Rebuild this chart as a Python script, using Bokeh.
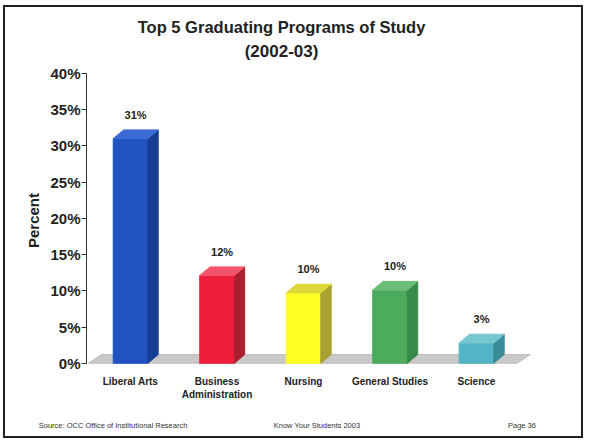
from bokeh.plotting import figure
from bokeh.models import FixedTicker, PrintfTickFormatter, Range1d, ColumnDataSource, LinearAxis
from bokeh.core.properties import value
from bokeh.embed import file_html
from bokeh.resources import INLINE

# ---- data ----
categories = ["Liberal Arts", "Business\nAdministration", "Nursing", "General Studies", "Science"]
percent = [31.0, 12.1, 9.7, 10.1, 2.8]
value_labels = ["31%", "12%", "10%", "10%", "3%"]
y_ticks = [0, 5, 10, 15, 20, 25, 30, 35, 40]

title_line1 = "Top 5 Graduating Programs of Study"
title_line2 = "(2002-03)"
footer_texts = ["Source: OCC Office of Institutional Research", "Know Your Students 2003", "Page 36"]

# ---- styles / positions ----
front_colors = ["#2152c2", "#f01e3c", "#ffff24", "#4cab5c", "#52b4c4"]
side_colors = ["#173d92", "#aa1f30", "#a9a232", "#378a47", "#3a8b98"]
top_colors = ["#3d6ad4", "#f2556a", "#dcd83a", "#6cbd77", "#78c6d2"]
FONT = value("Liberation Sans")
BAR_W = 0.40
DX = 0.12
DY = 1.2
TITLE_POS = 1.746
FOOTER_POS = [-0.202, 2.156, 4.526]

idx = list(range(len(categories)))
xs_side, ys_side, xs_top, ys_top = [], [], [], []
for i, v in zip(idx, percent):
    r = i + BAR_W / 2
    l = i - BAR_W / 2
    xs_side.append([r, r + DX, r + DX, r])
    ys_side.append([0, DY, v + DY, v])
    xs_top.append([l, l + DX, r + DX, r])
    ys_top.append([v, v + DY, v + DY, v])

src = ColumnDataSource(dict(x=idx, top=percent, label=value_labels, fc=front_colors,
                            sc=side_colors, tc=top_colors, xs_side=xs_side, ys_side=ys_side,
                            xs_top=xs_top, ys_top=ys_top))

p = figure(width=580, height=433, output_backend="svg", toolbar_location=None,
           x_range=Range1d(-0.509, 4.740), y_range=Range1d(-1.0, 40.4),
           min_border_left=81, min_border_right=45, min_border_top=63, min_border_bottom=70)
p.styles = {"border": "2px solid #1e1e1e", "margin-left": "3px", "margin-top": "5px"}
p.outline_line_color = None
p.xgrid.visible = False
p.ygrid.visible = False
p.background_fill_color = "white"
p.border_fill_color = "white"

# floor
fl, fr = -0.486, 4.47
p.patch(x=[fl, fl + 0.15, fr + 0.15, fr], y=[0, DY, DY, 0], fill_color="#c9c9c9",
        line_color="#b3b3b3", line_width=0.8)

# bars
p.vbar(x="x", top="top", bottom=0, width=BAR_W, fill_color="fc", line_color="fc", source=src)
p.patches(xs="xs_side", ys="ys_side", fill_color="sc", line_color="sc", source=src)
p.patches(xs="xs_top", ys="ys_top", fill_color="tc", line_color="tc", source=src)

p.text(x="x", y="top", text="label", x_offset=5, y_offset=-24, text_align="center",
       text_baseline="middle", text_font=FONT, text_font_style="bold",
       text_font_size="11px", text_color="#222222", source=src)

# y axis
ya = p.yaxis[0]
ya.ticker = FixedTicker(ticks=y_ticks)
ya.formatter = PrintfTickFormatter(format="%d%%")
ya.bounds = (0, 40)
ya.minor_tick_line_color = None
ya.major_tick_in = 0
ya.major_tick_out = 5
ya.major_label_standoff = 1
ya.axis_line_color = "#333333"
ya.major_tick_line_color = "#333333"
ya.major_label_text_font = "Liberation Sans"
ya.major_label_text_font_style = "bold"
ya.major_label_text_font_size = "15px"
ya.major_label_text_color = "#222222"
ya.axis_label = "Percent"
ya.axis_label_text_font = "Liberation Sans"
ya.axis_label_text_font_style = "bold"
ya.axis_label_text_font_size = "15px"
ya.axis_label_text_color = "#222222"
ya.axis_label_standoff = 5


def style_text_axis(ax, size, bold, standoff, color="#222222"):
    ax.axis_line_color = None
    ax.major_tick_line_color = None
    ax.minor_tick_line_color = None
    ax.major_tick_out = 0
    ax.major_tick_in = 0
    ax.major_label_standoff = standoff
    ax.major_label_text_font = "Liberation Sans"
    ax.major_label_text_font_style = "bold" if bold else "normal"
    ax.major_label_text_font_size = size
    ax.major_label_text_color = color


# x axis (categories)
xa = p.xaxis[0]
xa.ticker = FixedTicker(ticks=idx)
xa.major_label_overrides = {i: c for i, c in zip(idx, categories)}
style_text_axis(xa, "10px", True, 5)

# footer line (below the category labels)
fa = LinearAxis(ticker=FixedTicker(ticks=FOOTER_POS),
                major_label_overrides={k: t for k, t in zip(FOOTER_POS, footer_texts)})
style_text_axis(fa, "7.5px", False, 18, "#333333")
p.add_layout(fa, "below")

# title lines (above)
t2 = LinearAxis(ticker=FixedTicker(ticks=[TITLE_POS]), major_label_overrides={TITLE_POS: title_line2})
style_text_axis(t2, "17px", True, 10)
p.add_layout(t2, "above")
t1 = LinearAxis(ticker=FixedTicker(ticks=[TITLE_POS]), major_label_overrides={TITLE_POS: title_line1})
style_text_axis(t1, "16.5px", True, 3)
p.add_layout(t1, "above")

open("out.html", "w").write(file_html(p, INLINE))
